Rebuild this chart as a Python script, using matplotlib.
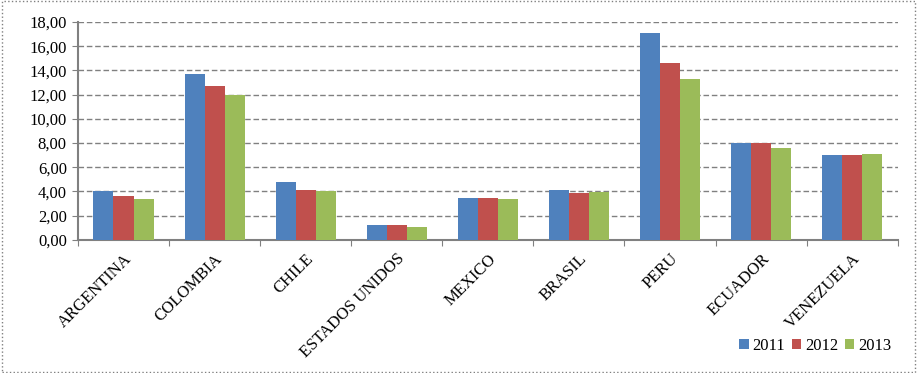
import numpy as np
import matplotlib.pyplot as plt
from matplotlib.patches import Rectangle

paises = ['ARGENTINA', 'COLOMBIA', 'CHILE', 'ESTADOS UNIDOS', 'MEXICO',
          'BRASIL', 'PERU', 'ECUADOR', 'VENEZUELA']
v2011 = [4.00, 13.70, 4.75, 1.20, 3.45, 4.10, 17.10, 8.00, 7.05]
v2012 = [3.65, 12.75, 4.15, 1.20, 3.45, 3.90, 14.60, 8.00, 7.05]
v2013 = [3.40, 11.95, 4.00, 1.10, 3.40, 3.95, 13.30, 7.60, 7.10]

plt.rcParams['font.family'] = 'Liberation Serif'

fig = plt.figure(figsize=(9.17, 3.73), dpi=100)
ax = fig.add_axes([0.085, 0.357, 0.894, 0.584])

x = np.arange(len(paises))
w = 0.22
ax.bar(x - w, v2011, w, color='#4F81BD', label='2011', zorder=3)
ax.bar(x, v2012, w, color='#C0504D', label='2012', zorder=3)
ax.bar(x + w, v2013, w, color='#9BBB59', label='2013', zorder=3)

ax.set_xlim(-0.5, len(paises) - 0.5)
ax.set_ylim(0, 18)
ax.set_yticks(np.arange(0, 19, 2))
ax.set_yticklabels(['{:.2f}'.format(v).replace('.', ',') for v in np.arange(0, 19, 2)], fontsize=12)
ax.yaxis.grid(True, linestyle=(0, (4, 2)), color='#808080', linewidth=1, zorder=0)

ax.set_xticks(np.arange(-0.5, len(paises), 1))
ax.set_xticklabels([])
ax.set_xticks(x, minor=True)
ax.set_xticklabels(paises, minor=True, rotation=45, ha='right', rotation_mode='anchor', fontsize=12)
ax.tick_params(axis='x', which='minor', length=0, pad=8)
ax.tick_params(axis='x', which='major', length=4, direction='out', color='#808080')
ax.tick_params(axis='y', length=4, direction='out', color='#808080', pad=4)

for s in ['top', 'right']:
    ax.spines[s].set_visible(False)
for s in ['left', 'bottom']:
    ax.spines[s].set_color('#808080')
    ax.spines[s].set_linewidth(1.5)

fig.legend(loc='center right', bbox_to_anchor=(0.985, 0.072), ncol=3, frameon=False,
           fontsize=12, handlelength=0.55, handleheight=0.55, handletextpad=0.25,
           columnspacing=0.4, borderpad=0.2)

fig.patches.append(Rectangle((0.002, 0.003), 0.996, 0.994, transform=fig.transFigure,
                             fill=False, edgecolor='#808080', linestyle=':', linewidth=1))

plt.savefig('out.png', dpi=100)
